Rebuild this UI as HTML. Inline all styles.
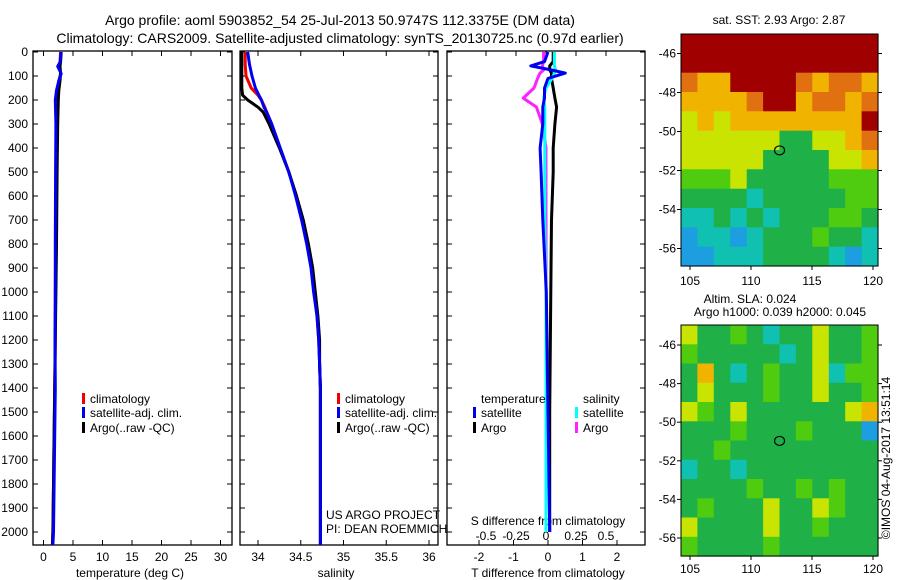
<!DOCTYPE html>
<html><head><meta charset="utf-8"><style>
html,body{margin:0;padding:0;background:#fff;}
svg{display:block;font-family:"Liberation Sans",sans-serif;}
</style></head><body>
<svg id="c" width="900" height="580" viewBox="0 0 900 580" xmlns="http://www.w3.org/2000/svg">
<text x="340" y="25" text-anchor="middle" font-size="14">Argo profile: aoml 5903852_54 25-Jul-2013 50.9747S 112.3375E (DM data)</text>
<text x="340" y="43" text-anchor="middle" font-size="14">Climatology: CARS2009. Satellite-adjusted climatology: synTS_20130725.nc (0.97d earlier)</text>
<g id="g"></g>
</svg>
<script>
// depth axis ticks
const depthTicks=[0,100,200,300,400,500,600,700,800,900,1000,1100,1200,1300,1400,1500,1600,1700,1800,1900,2000];
// temperature panel
const tTicks=[0,5,10,15,20,25,30];
const tDepth=[0,40,60,90,120,160,200,300,500,800,1000,1200,1400,1600,1800,2000,2054];
const tClim=[2.9,2.8,2.75,2.9,2.6,2.3,2.2,2.15,2.1,2.05,2.0,2.0,1.9,1.8,1.7,1.6,1.5];
const tSat=[2.95,2.85,2.4,3.0,2.6,2.2,2.0,2.1,2.05,2.0,2.0,1.95,2.0,1.9,1.8,1.7,1.6];
const tArgo=[3.0,2.9,2.8,2.9,2.8,2.6,2.5,2.4,2.3,2.2,2.1,2.0,1.9,1.8,1.7,1.6,1.5];
// salinity panel
const sTicks=[34,34.5,35,35.5,36];
const sDepth=[0,50,100,150,180,200,230,250,300,400,500,600,700,800,900,1000,1100,1200,1300,1400,1600,2054];
const sClim=[33.85,33.85,33.86,33.92,34.0,34.04,34.08,34.1,34.16,34.26,34.36,34.45,34.52,34.58,34.63,34.66,34.69,34.71,34.72,34.73,34.73,34.73];
const sSat=[33.88,33.9,33.93,33.97,34.01,34.04,34.07,34.1,34.16,34.26,34.36,34.44,34.51,34.57,34.62,34.65,34.69,34.71,34.72,34.73,34.73,34.73];
const sArgo=[33.81,33.81,33.81,33.81,33.82,33.88,34.0,34.06,34.13,34.25,34.36,34.45,34.53,34.59,34.64,34.67,34.70,34.72,34.72,34.73,34.73,34.73];
// difference panel
const dTTicks=[-2,-1,0,1,2];
const dSTicks=[-0.5,-0.25,0,0.25,0.5];
const dSTickLabels=["-0.5","-0.25","0","0.25","0.5"];
const dDepth=[0,40,58,75,88,110,150,192,229,300,400,500,700,1000,1500,2000];
const dTSat=[0,-0.1,-0.5,0.1,0.5,0.0,-0.1,-0.1,-0.15,-0.15,-0.23,-0.2,-0.15,-0.05,0,0.05];
const dTArgo=[0.15,0.15,0.05,0.05,0.1,0.1,0.15,0.2,0.25,0.2,0.15,0.15,0.1,0.08,0.05,0.05];
const dSSat=[0.07,0.07,0.07,0.08,0.07,0.05,0.0,-0.02,-0.01,-0.01,-0.01,-0.01,-0.01,0.0,0.0,0.0];
const dSArgo=[-0.02,-0.02,-0.03,-0.02,-0.05,-0.07,-0.1,-0.19,-0.08,-0.03,0.0,0.0,0.0,0.0,0.0,0.0];
// maps (lon/lat ticks and coarse colour-class grids)
const lonTicks=[105,110,115,120];
const latTicks=[-46,-48,-50,-52,-54,-56];
const sstGrid=[
[7,7,7,7,7,7,7,7,7,7,7,7],[7,7,7,7,7,7,7,7,7,7,7,7],[6,5,5,7,7,7,7,6,5,6,6,5],
[5,5,5,5,6,7,7,5,6,6,5,6],[4,5,4,5,5,5,5,5,5,5,5,7],[4,4,4,4,4,4,2,2,4,4,5,6],
[4,4,4,4,4,2,2,2,2,4,4,5],[3,3,3,4,2,2,2,2,2,3,3,3],[2,2,2,2,1,2,2,2,2,2,3,3],
[1,1,2,1,2,1,2,2,2,3,3,2],[0,1,1,0,1,2,2,2,3,2,2,1],[0,0,1,1,1,2,2,2,2,1,0,1]];
const slaGrid=[
[4,2,2,3,2,1,2,2,4,2,2,3],[3,2,2,2,2,2,1,2,4,2,2,3],[2,5,2,1,2,3,2,2,4,1,3,3],
[2,4,2,2,2,3,2,2,4,2,2,3],[4,3,2,4,2,2,2,2,2,2,4,5],[2,2,2,3,2,2,2,3,2,2,2,0],
[2,2,3,2,2,2,2,2,2,2,2,2],[1,2,2,1,2,2,2,2,2,2,2,2],[2,2,2,2,3,2,2,3,2,3,2,2],
[2,3,2,2,2,4,2,2,4,3,2,2],[4,2,2,2,2,4,2,2,3,2,2,2],[3,2,2,2,2,3,2,2,2,2,2,2]];
const palette=["#1c9ee0","#10c0b0","#20b048","#50cc10","#c8e400","#f0b400","#e07010","#a00000"];
const floatLon=112.34, floatLat=-50.97;

const NS="http://www.w3.org/2000/svg", G=document.getElementById('g');
function el(t,a,p){const e=document.createElementNS(NS,t);for(const k in a)e.setAttribute(k,a[k]);(p||G).appendChild(e);return e;}
const yD=d=>52+d*0.24;
const PB=545;
function panel(x0,x1,name){
  const r=el('rect',{x:x0,y:51,width:x1-x0,height:PB-51,fill:'none',stroke:'#000','stroke-width':1.3});
  
  
  depthTicks.forEach(d=>{
    el('line',{x1:x0,x2:x0+5,y1:yD(d),y2:yD(d),stroke:'#000'});
    el('line',{x1:x1,x2:x1-5,y1:yD(d),y2:yD(d),stroke:'#000'});
  });
}
function line(xs,ds,fx,col,name,w){
  const pts=xs.map((v,i)=>fx(v).toFixed(1)+','+yD(ds[i]).toFixed(1)).join(' ');
  const p=el('polyline',{points:pts,fill:'none',stroke:col,'stroke-width':w||3,'stroke-linejoin':'round'});
  
  
}
function txt(x,y,s,anchor,size,name){
  const t=el('text',{x:x,y:y,'text-anchor':anchor||'start','font-size':size||12});t.textContent=s;
  
  
  return t;
}
depthTicks.forEach(d=>txt(28,yD(d)+4,String(d),'end',12,'depth-tick-label'));
// panel 1
const xT=v=>43.5+v*5.9;
panel(33,232,'temperature-panel');
tTicks.forEach(v=>{el('line',{x1:xT(v),x2:xT(v),y1:51,y2:56,stroke:'#000'});el('line',{x1:xT(v),x2:xT(v),y1:PB,y2:PB-5,stroke:'#000'});txt(xT(v),561,String(v),'middle',12,'temperature-tick-label');});
txt(130,577,'temperature (deg C)','middle',12,'temperature-axis-title');
line(tClim,tDepth,xT,'#f00000','temperature-climatology');
line(tArgo,tDepth,xT,'#000','temperature-argo');
line(tSat,tDepth,xT,'#0000f0','temperature-satellite-adj');
// panel 2
const xS=v=>258+(v-34)*85.5;
panel(240,438,'salinity-panel');
sTicks.forEach(v=>{el('line',{x1:xS(v),x2:xS(v),y1:51,y2:56,stroke:'#000'});el('line',{x1:xS(v),x2:xS(v),y1:PB,y2:PB-5,stroke:'#000'});txt(xS(v),561,String(v),'middle',12,'salinity-tick-label');});
txt(336,577,'salinity','middle',12,'salinity-axis-title');
line(sClim,sDepth,xS,'#f00000','salinity-climatology');
line(sArgo,sDepth,xS,'#000','salinity-argo');
line(sSat,sDepth,xS,'#0000f0','salinity-satellite-adj');
// panel 3
const xDT=v=>548+v*34.5, xDS=v=>546+v*120;
panel(447,645,'difference-panel');
dTTicks.forEach(v=>{el('line',{x1:xDT(v),x2:xDT(v),y1:PB,y2:PB-5,stroke:'#000'});txt(xDT(v),561,String(v),'middle',12,'t-diff-tick-label');});
dSTicks.forEach((v,i)=>{el('line',{x1:xDS(v),x2:xDS(v),y1:51,y2:56,stroke:'#000'});txt(xDS(v),540,dSTickLabels[i],'middle',12,'s-diff-tick-label');});
txt(548,525,'S difference from climatology','middle',12,'s-diff-axis-title');
txt(548,577,'T difference from climatology','middle',12,'t-diff-axis-title');
line(dTArgo,dDepth,xDT,'#000','t-diff-argo');
line(dSArgo,dDepth,xDS,'#ff20ff','s-diff-argo');
line(dSSat,dDepth,xDS,'#00ffff','s-diff-satellite');
line(dTSat,dDepth,xDT,'#0000f0','t-diff-satellite');
// legends
function leg(x,y,col,s,name){const r=el('rect',{x:x,y:y-10,width:3,height:11,fill:col});txt(x+8,y,s,'start',12,name);}
leg(82,403,'#f00000','climatology','legend-climatology');
leg(82,417,'#0000f0','satellite-adj. clim.','legend-satellite');
leg(82,432,'#000','Argo(..raw -QC)','legend-argo');
leg(337,403,'#f00000','climatology','legend2-climatology');
leg(337,417,'#0000f0','satellite-adj. clim.','legend2-satellite');
leg(337,432,'#000','Argo(..raw -QC)','legend2-argo');
txt(481,403,'temperature','start',12,'legend-temperature-header');
txt(583,403,'salinity','start',12,'legend-salinity-header');
leg(473,417,'#0000f0','satellite','legend-t-satellite');
leg(473,432,'#000','Argo','legend-t-argo');
leg(575,417,'#00ffff','satellite','legend-s-satellite');
leg(575,432,'#ff20ff','Argo','legend-s-argo');
txt(326,519,'US ARGO PROJECT','start',12,'project-credit');
txt(326,533,'PI: DEAN ROEMMICH','start',12,'pi-credit');
// maps
function map(y0,y1,lat46,dpp,grid,name,lonY){
  const x0=681,x1=878,cw=(x1-x0)/12,ch=(y1-y0)/12;
  const yL=v=>lat46+(-46-v)*dpp, xL=v=>690+(v-105)*12.2;
  grid.forEach((row,r)=>row.forEach((v,c)=>{
    const cell=el('rect',{x:(x0+c*cw).toFixed(1),y:(y0+r*ch).toFixed(1),width:(cw+0.6).toFixed(1),height:(ch+0.6).toFixed(1),fill:palette[v]});
    
    
  }));
  const fr=el('rect',{x:x0,y:y0,width:x1-x0,height:y1-y0,fill:'none',stroke:'#000'});
  
  latTicks.forEach(v=>{el('line',{x1:x0-4,x2:x0,y1:yL(v),y2:yL(v),stroke:'#000'});el('line',{x1:x1,x2:x1+4,y1:yL(v),y2:yL(v),stroke:'#000'});txt(676,yL(v)+4,String(v),'end',12,name+'-lat-label');});
  lonTicks.forEach(v=>{el('line',{x1:xL(v),x2:xL(v),y1:y1,y2:y1+4,stroke:'#000'});txt(xL(v),lonY,String(v),'middle',12,name+'-lon-label');});
  const m=el('ellipse',{cx:xL(floatLon),cy:yL(floatLat),rx:5,ry:4.5,fill:'none',stroke:'#000','stroke-width':1.2});
  
}
map(34,266,53.5,19.5,sstGrid,'sst-map',285);
map(325,556,345,19.3,slaGrid,'sla-map',573);
txt(779,24,'sat. SST: 2.93 Argo: 2.87','middle',12,'sst-map-title');
txt(750,303,'Altim. SLA: 0.024','middle',12,'sla-map-title');
txt(780,316,'Argo h1000: 0.039 h2000: 0.045','middle',12,'sla-map-subtitle');
const cr=txt(0,0,'©IMOS 04-Aug-2017 13:51:14','middle',12,'copyright-timestamp');
cr.setAttribute('transform','translate(890,458) rotate(-90)');
</script>
</body></html>
